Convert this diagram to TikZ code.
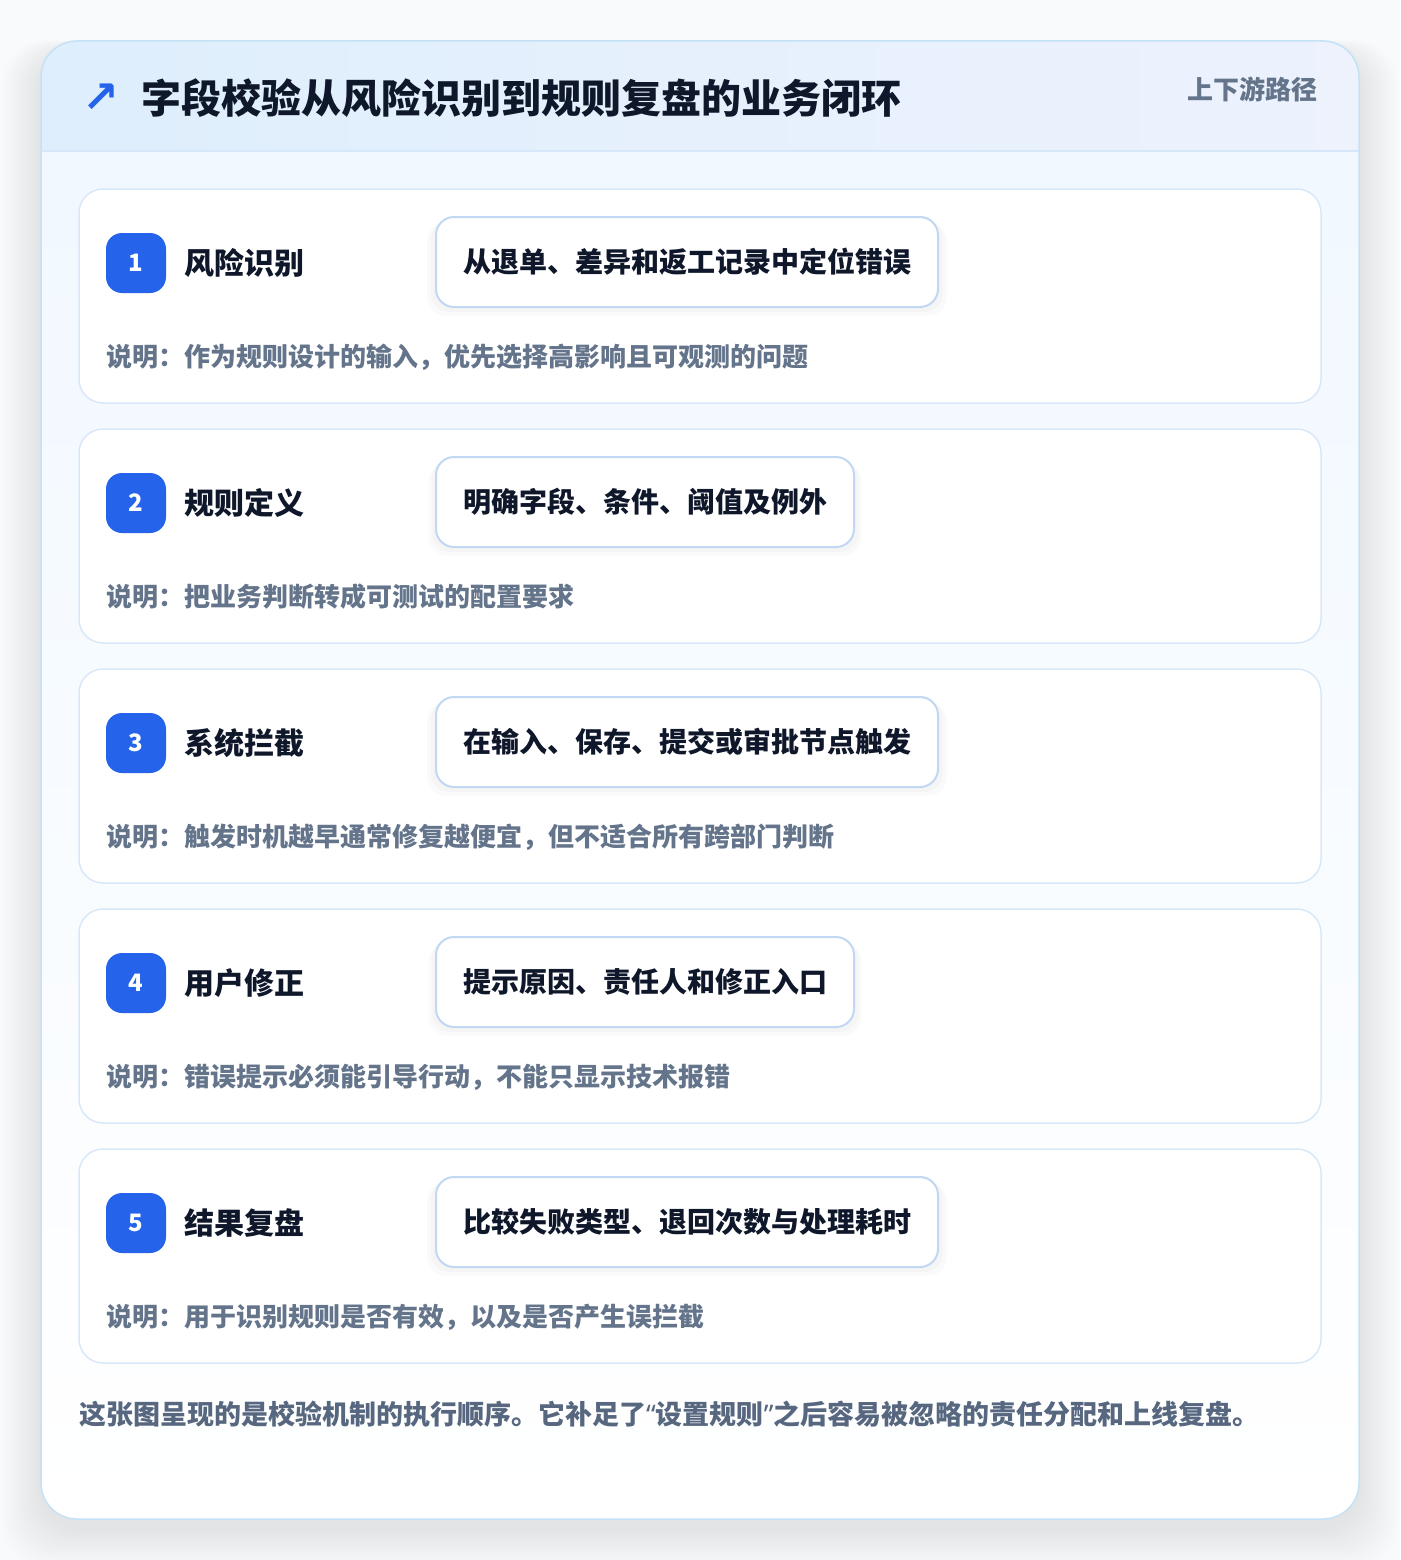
\documentclass[tikz,border=0pt]{standalone}
\usepackage{fontspec}
\setmainfont{Noto Sans CJK SC}
\newfontfamily\symfont{DejaVu Sans}
\newfontfamily\latinfont{Noto Sans}
\usetikzlibrary{shadows}
\definecolor{pagebg}{HTML}{F9FAFB}
\definecolor{cardborder}{HTML}{C4E2F6}
\definecolor{hdrL}{HTML}{DEEEFC}
\definecolor{hdrR}{HTML}{EDF2FD}
\definecolor{hdrline}{HTML}{D6E7FA}
\definecolor{bodyT}{HTML}{F1F8FF}
\definecolor{stepborder}{HTML}{D9E8F8}
\definecolor{boxborder}{HTML}{C2D7F3}
\definecolor{badgeblue}{HTML}{2563EB}
\definecolor{titlecol}{HTML}{0F172A}
\definecolor{desccol}{HTML}{64748B}
\definecolor{notecol}{HTML}{56677F}
\tikzset{
  stepcard/.style={draw=stepborder, line width=1.5pt, fill=white, rounded corners=24pt},
  badge/.style={fill=badgeblue, rounded corners=16pt, minimum width=60pt, minimum height=60pt, inner sep=0pt, text=white, font=\bfseries\fontsize{24}{28}\selectfont},
  steptitle/.style={anchor=west, inner sep=0pt, text=titlecol, font=\bfseries\fontsize{30}{34}\selectfont},
  actionbox/.style={anchor=west, draw=boxborder, line width=2pt, fill=white, rounded corners=18pt, minimum height=90pt, inner xsep=27pt, inner ysep=0pt, text=titlecol, font=\bfseries\fontsize{28}{32}\selectfont,
    general shadow={fill=black, opacity=0.02, shadow yshift=-7pt, shadow scale=1.035},
    general shadow={fill=black, opacity=0.02, shadow yshift=-4pt, shadow scale=1.02}},
  desc/.style={anchor=west, inner sep=0pt, text=desccol, font=\bfseries\fontsize{26}{30}\selectfont},
}
\begin{document}
\begin{tikzpicture}[x=1pt,y=-1pt]
\useasboundingbox (0,0) rectangle (1400,1560);
\fill[pagebg] (0,0) rectangle (1400,1560);
% soft shadow of the card
\foreach \i in {1,...,22} {
  \fill[black, opacity=0.005, rounded corners=44pt]
    (41-\i*1.8, 41-\i*0.5+10) rectangle (1359+\i*1.8, 1519+\i*1.8+10);
}
% card
\begin{scope}
  \clip[rounded corners=36pt] (41,41) rectangle (1359,1519);
  \fill[white] (41,41) rectangle (1359,1519);
  \shade[left color=hdrL, right color=hdrR] (41,41) rectangle (1359,151);
  \shade[top color=bodyT, bottom color=white] (41,151) rectangle (1359,1519);
  \draw[hdrline, line width=1.5pt] (41,151) -- (1359,151);
\end{scope}
\draw[cardborder, line width=1.5pt, rounded corners=36pt] (41,41) rectangle (1359,1519);

% header
\node[anchor=center, inner sep=0pt, text=badgeblue, font=\symfont\bfseries\fontsize{44}{48}\selectfont] (arrow) at (101,98) {↗};
\node[anchor=west, inner sep=0pt, text=titlecol, font=\bfseries\fontsize{40}{46}\selectfont] (title) at (141,98) {字段校验从风险识别到规则复盘的业务闭环};
\node[anchor=east, inner sep=0pt, text=desccol, font=\bfseries\fontsize{26}{30}\selectfont] (tag) at (1318,89) {上下游路径};

% steps
\foreach \n/\ttl/\act/\dsc in {
  1/风险识别/从退单、差异和返工记录中定位错误/说明：作为规则设计的输入，优先选择高影响且可观测的问题,
  2/规则定义/明确字段、条件、阈值及例外/说明：把业务判断转成可测试的配置要求,
  3/系统拦截/在输入、保存、提交或审批节点触发/说明：触发时机越早通常修复越便宜，但不适合所有跨部门判断,
  4/用户修正/提示原因、责任人和修正入口/说明：错误提示必须能引导行动，不能只显示技术报错,
  5/结果复盘/比较失败类型、退回次数与处理耗时/说明：用于识别规则是否有效，以及是否产生误拦截} {
  \pgfmathsetmacro{\yo}{189+(\n-1)*240}
  \path[stepcard] (79,\yo) rectangle (1321,\yo+214);
  \node[badge] (badge\n) at (136,\yo+74) {\n};
  \node[steptitle] (ttl\n) at (184,\yo+74) {\ttl};
  \node[actionbox] (act\n) at (435,\yo+73) {\act};
  \node[desc] (dsc\n) at (106,\yo+168) {\dsc};
}

% footnote
\node[anchor=west, inner sep=0pt, text=notecol, font=\bfseries\fontsize{27}{31}\selectfont] (note) at (79,1414) {这张图呈现的是校验机制的执行顺序。它补足了{\latinfont “}设置规则{\latinfont ”}之后容易被忽略的责任分配和上线复盘。};
\end{tikzpicture}
\end{document}
